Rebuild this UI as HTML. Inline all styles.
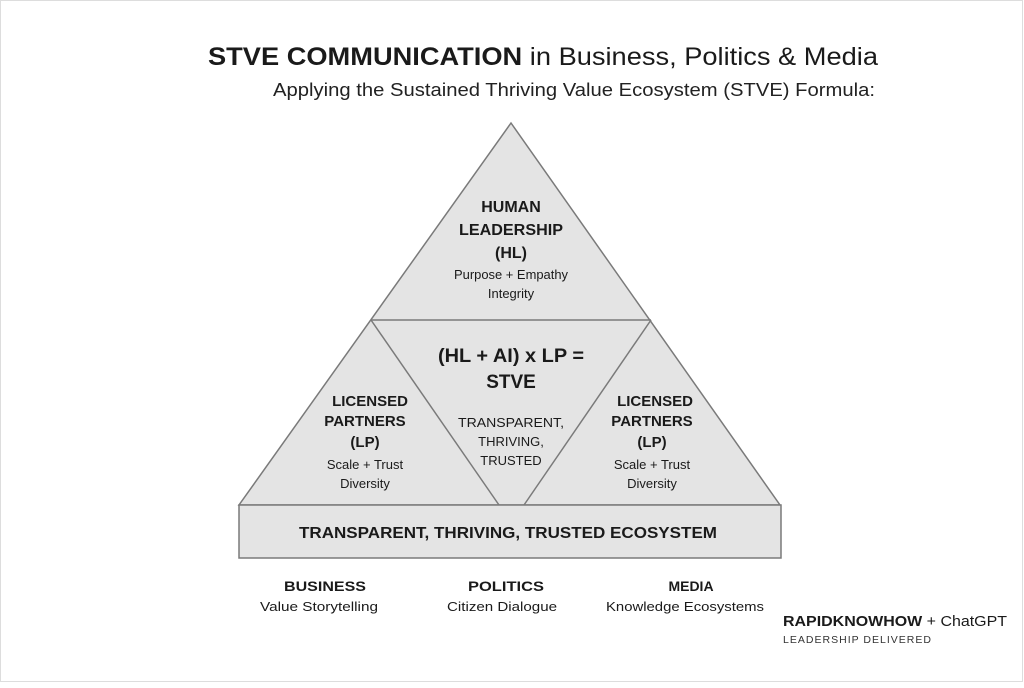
<!DOCTYPE html>
<html><head><style>
body{margin:0;width:1024px;height:683px;background:#fff;overflow:hidden;font-family:"Liberation Sans",Arial,sans-serif;}
</style></head><body>
<svg width="1024" height="683" xmlns="http://www.w3.org/2000/svg" font-family="Liberation Sans, Arial, sans-serif">
<rect x="0.5" y="0.5" width="1022" height="681" fill="#fff" stroke="#ddd"/>
<text x="208" y="65" font-size="25" font-weight="bold" fill="#1a1a1a" textLength="670" lengthAdjust="spacingAndGlyphs">STVE COMMUNICATION <tspan font-weight="normal">in Business, Politics &amp; Media</tspan></text>
<text x="273" y="96" font-size="18" fill="#222" textLength="602" lengthAdjust="spacingAndGlyphs">Applying the Sustained Thriving Value Ecosystem (STVE) Formula:</text>
<polygon points="511,123 239,505 780,505" fill="#e4e4e4" stroke="#7a7a7a" stroke-width="1.5"/>
<line x1="371" y1="320" x2="651" y2="320" stroke="#7a7a7a" stroke-width="1.5"/>
<line x1="371" y1="320" x2="499" y2="505" stroke="#7a7a7a" stroke-width="1.5"/>
<line x1="651" y1="320" x2="524" y2="505" stroke="#7a7a7a" stroke-width="1.5"/>
<rect x="239" y="505" width="542" height="53" fill="#e4e4e4" stroke="#7a7a7a" stroke-width="1.5"/>
<g text-anchor="middle" fill="#1a1a1a">
<text x="511" y="212" font-size="16" font-weight="bold">HUMAN</text>
<text x="511" y="235" font-size="16" font-weight="bold" textLength="104" lengthAdjust="spacingAndGlyphs">LEADERSHIP</text>
<text x="511" y="258" font-size="16" font-weight="bold">(HL)</text>
<text x="511" y="279" font-size="13" textLength="114" lengthAdjust="spacingAndGlyphs">Purpose + Empathy</text>
<text x="511" y="298" font-size="13">Integrity</text>
<text x="511" y="362" font-size="19" font-weight="bold" textLength="146" lengthAdjust="spacingAndGlyphs">(HL + AI) x LP =</text>
<text x="511" y="388" font-size="19" font-weight="bold">STVE</text>
<text x="511" y="427" font-size="13" textLength="106" lengthAdjust="spacingAndGlyphs">TRANSPARENT,</text>
<text x="511" y="446" font-size="13">THRIVING,</text>
<text x="511" y="465" font-size="13">TRUSTED</text>
<text x="370" y="406" font-size="15" font-weight="bold">LICENSED</text>
<text x="365" y="426" font-size="15" font-weight="bold">PARTNERS</text>
<text x="365" y="447" font-size="15" font-weight="bold">(LP)</text>
<text x="365" y="469" font-size="13">Scale + Trust</text>
<text x="365" y="488" font-size="13">Diversity</text>
<text x="655" y="406" font-size="15" font-weight="bold">LICENSED</text>
<text x="652" y="426" font-size="15" font-weight="bold">PARTNERS</text>
<text x="652" y="447" font-size="15" font-weight="bold">(LP)</text>
<text x="652" y="469" font-size="13">Scale + Trust</text>
<text x="652" y="488" font-size="13">Diversity</text>
<text x="508" y="538" font-size="16" font-weight="bold" textLength="418" lengthAdjust="spacingAndGlyphs">TRANSPARENT, THRIVING, TRUSTED ECOSYSTEM</text>
<text x="325" y="591" font-size="14" font-weight="bold" textLength="82" lengthAdjust="spacingAndGlyphs">BUSINESS</text>
<text x="319" y="611" font-size="13" textLength="118" lengthAdjust="spacingAndGlyphs">Value Storytelling</text>
<text x="506" y="591" font-size="14" font-weight="bold" textLength="76" lengthAdjust="spacingAndGlyphs">POLITICS</text>
<text x="502" y="611" font-size="13" textLength="110" lengthAdjust="spacingAndGlyphs">Citizen Dialogue</text>
<text x="691" y="591" font-size="14" font-weight="bold">MEDIA</text>
<text x="685" y="611" font-size="13" textLength="158" lengthAdjust="spacingAndGlyphs">Knowledge Ecosystems</text>
</g>
<text x="783" y="626" font-size="15" font-weight="bold" fill="#1a1a1a" textLength="224" lengthAdjust="spacingAndGlyphs">RAPIDKNOWHOW <tspan font-weight="normal">+ ChatGPT</tspan></text>
<text x="783" y="643" font-size="10.5" letter-spacing="1" fill="#333" textLength="149" lengthAdjust="spacingAndGlyphs">LEADERSHIP DELIVERED</text>
</svg>
</body></html>
